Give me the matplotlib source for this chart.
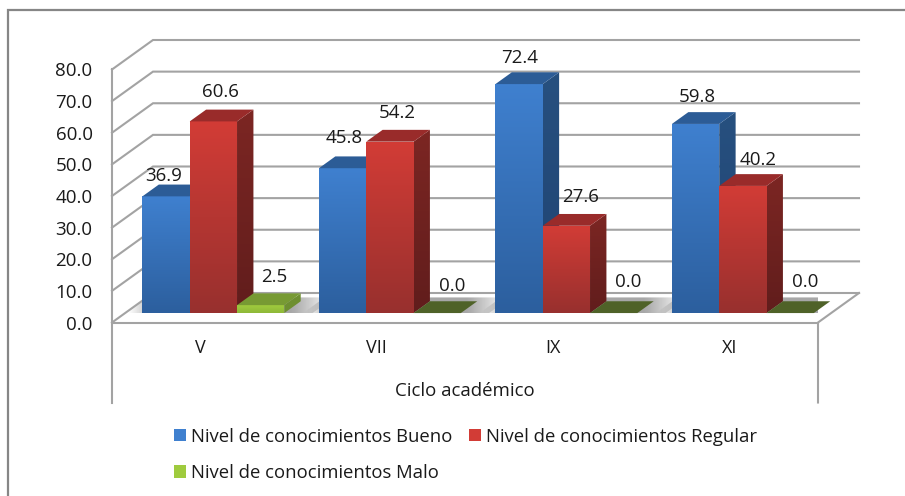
import matplotlib
matplotlib.use('Agg')
import matplotlib.pyplot as plt
import numpy as np
from matplotlib.colors import to_rgb
from matplotlib.lines import Line2D
from matplotlib.patches import Patch, Polygon

ciclos = ['V', 'VII', 'IX', 'XI']
bueno = [36.9, 45.8, 72.4, 59.8]
regular = [60.6, 54.2, 27.6, 40.2]
malo = [2.5, 0.0, 0.0, 0.0]
series_names = ['Nivel de conocimientos Bueno', 'Nivel de conocimientos Regular', 'Nivel de conocimientos Malo']
y_ticks = [0, 10, 20, 30, 40, 50, 60, 70, 80]

W, H = 905, 496
plt.rcParams['font.family'] = ['Open Sans', 'DejaVu Sans']
fig = plt.figure(figsize=(W / 100, H / 100), dpi=100)

# front plane of the 3d box, in pixels
left, right, top, bottom = 112, 818, 69.5, 322.5
ax = fig.add_axes([left / W, 1 - bottom / H, (right - left) / W, (bottom - top) / H])
ax.patch.set_alpha(0)
for s in ax.spines.values():
    s.set_visible(False)

px_x = (right - left) / 4.0
px_y = (bottom - top) / 80.0
DX = 41 / px_x
DY = 29.5 / px_y

GRID = '#a3a3a3'
TEXT = '#1a1a1a'


def proj(x, v, d):
    return x + d * DX, v + d * DY


def grad_poly(pts, c1, c2, z):
    # vertical gradient, c1 on top
    pts = np.array(pts)
    img = np.linspace(to_rgb(c1), to_rgb(c2), 64).reshape(64, 1, 3)
    im = ax.imshow(img, extent=[pts[:, 0].min(), pts[:, 0].max(), pts[:, 1].min(), pts[:, 1].max()],
                   aspect='auto', origin='upper', zorder=z, interpolation='bilinear')
    im.set_clip_box(None)
    im.set_clip_path(Polygon(pts, transform=ax.transData))


def shadow(pts, xa, xb, z):
    # floor shadow, fades out sideways
    pts = np.array(pts)
    a = np.interp(np.linspace(0, 1, 64), [0, xa, xb, 1], [0, 0.62, 0.62, 0])
    img = np.zeros((1, 64, 4))
    img[0, :, :3] = 0.45
    img[0, :, 3] = a
    im = ax.imshow(img, extent=[pts[:, 0].min(), pts[:, 0].max(), pts[:, 1].min(), pts[:, 1].max()],
                   aspect='auto', zorder=z, interpolation='bilinear')
    im.set_clip_box(None)
    im.set_clip_path(Polygon(pts, transform=ax.transData))


def bar3d(x0, w, v, front, topc, side, z):
    d0, d1 = 0.32, 0.72
    x1 = x0 + w
    if v > 0:
        grad_poly([proj(x0, 0, d0), proj(x1, 0, d0), proj(x1, v, d0), proj(x0, v, d0)], front[0], front[1], z)
        grad_poly([proj(x1, 0, d0), proj(x1, 0, d1), proj(x1, v, d1), proj(x1, v, d0)], side[0], side[1], z)
    ax.add_patch(Polygon([proj(x0, v, d0), proj(x1, v, d0), proj(x1, v, d1), proj(x0, v, d1)],
                         closed=True, fc=topc, ec='none', zorder=z, clip_on=False))


# walls and floor
for t in y_ticks:
    xb, vb = proj(0, t, 1)
    xe, ve = proj(4, t, 1)
    ax.plot([0, xb, xe], [t, vb, ve], color=GRID, lw=1.5, zorder=1, clip_on=False, solid_joinstyle='miter')
low = -80 / px_y
ax.plot([0, 0], [80, low], color=GRID, lw=1.5, zorder=6, clip_on=False)
ax.plot([0, 4], [0, 0], color=GRID, lw=1.5, zorder=6, clip_on=False)
ax.plot([4, 4, proj(4, 0, 1)[0]], [low, 0, proj(4, 0, 1)[1]], color=GRID, lw=1.5, zorder=6, clip_on=False)

# bars
w = 47.3 / px_x
margin = (1 - 3 * w) / 2
styles = [
    (('#3f80cf', '#2c5f9e'), '#2c5c96', ('#27507f', '#1f4373')),
    (('#d23c36', '#98302e'), '#992b2a', ('#7c2623', '#611d1c')),
    (('#9fcb3e', '#8fb838'), '#779a33', ('#6e8f30', '#6e8f30')),
]
for i in range(len(ciclos)):
    x0 = i + margin
    xa, xb = x0 - 0.09, x0 + 3 * w + 0.16
    shadow([proj(xa, 0, 0.32), proj(xb, 0, 0.32), proj(xb, 0, 0.85), proj(xa, 0, 0.85)], 0.14, 0.8, 2)
    for k, vals in enumerate([bueno, regular, malo]):
        front, topc, side = styles[k]
        if vals[i] == 0:
            topc = '#4f6228'
        bar3d(x0 + k * w, w, vals[i], front, topc, side, 3 + k)

# data labels, moved by hand like in the original (pixels from the front top of the bar)
nudge = {
    0: [(-2, 20), (7.5, 29), (14, 28)],
    1: [(2, 30), (7, 29), (15, 27)],
    2: [(1, 26), (14, 29), (15, 31)],
    3: [(2, 27), (15, 26), (15, 31)],
}
for i in range(len(ciclos)):
    for k, vals in enumerate([bueno, regular, malo]):
        xc = i + margin + (k + 0.5) * w
        ax.annotate('%.1f' % vals[i], proj(xc, vals[i], 0.32), xytext=nudge[i][k], textcoords='offset pixels',
                    ha='center', va='center', fontsize=13.5, color=TEXT, zorder=10, annotation_clip=False)

ax.set_xlim(0, 4)
ax.set_ylim(0, 80)
ax.set_yticks(y_ticks)
ax.set_yticklabels(['%.1f' % t for t in y_ticks])
ax.set_xticks([i + 0.5 for i in range(4)])
ax.set_xticklabels(ciclos)
ax.tick_params(axis='y', length=0, pad=14, labelsize=13.5, labelcolor=TEXT)
ax.tick_params(axis='x', length=0, pad=12, labelsize=13, labelcolor=TEXT)
ax.set_xlabel('Ciclo académico', fontsize=13.4, color=TEXT, labelpad=18)

# column order: legend fills the first column first
order = [0, 2, 1]
handles = [Patch(fc=styles[k][0][0], ec='none') for k in order]
fig.legend(handles, [series_names[k] for k in order], ncol=2, frameon=False, fontsize=13.3, labelcolor=TEXT,
           loc='upper left', bbox_to_anchor=(168 / W, 1 - 422 / H), bbox_transform=fig.transFigure,
           handlelength=0.65, handleheight=0.65, handletextpad=0.27, columnspacing=0.92, labelspacing=1.0,
           borderpad=0.3, borderaxespad=0)

# outer chart border, only left and top show in the crop
fig.add_artist(Line2D([7.5 / W, 7.5 / W, 1], [0, 1 - 10 / H, 1 - 10 / H], color='#868686', lw=1.6,
                      transform=fig.transFigure, solid_joinstyle='miter'))

fig.savefig('out.png', dpi=100)
